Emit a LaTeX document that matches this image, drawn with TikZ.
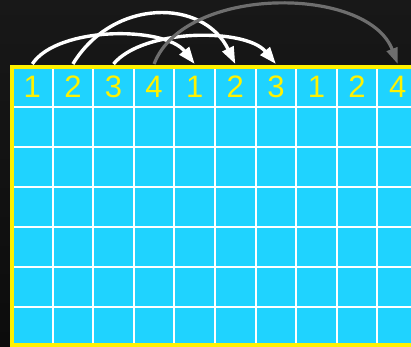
\documentclass[tikz,border=0pt]{standalone}
\usepackage{fontspec}
\setmainfont{Liberation Sans}
\usetikzlibrary{arrows.meta}
\definecolor{bgdark}{HTML}{181818}
\definecolor{bgdeep}{HTML}{0C0C0C}
\definecolor{cellblue}{HTML}{1FD3FF}
\definecolor{linkgray}{HTML}{6E6E6E}
\begin{document}
\begin{tikzpicture}[x=1pt, y=1pt,
    cell/.style={minimum width=40.6pt, minimum height=40pt, inner sep=0pt, outer sep=3pt,
        text=yellow, font=\fontsize{31}{31}\selectfont},
    link/.style={line width=3.4pt, white, -{Triangle[length=17pt,width=12pt]}},
    farlink/.style={link, linkgray, line width=3.2pt, -{Triangle[length=16pt,width=11pt]}}]
    \clip (0,0) rectangle (411,346);
    \shade[top color=bgdark, bottom color=bgdeep] (0,0) rectangle (411,346);
    % the grid
    \fill[cellblue] (12,1) rectangle (418,279);
    \foreach \k in {1,...,9} \draw[white, line width=2pt] (12+40.6*\k,1) -- (12+40.6*\k,279);
    \foreach \r in {1,...,6} \draw[white, line width=2pt] (12,279-40*\r) -- (418,279-40*\r);
    \draw[yellow, line width=4pt] (12,1) rectangle (418,279);
    % top row
    \foreach \lab [count=\i] in {1,2,3,4,1,2,3,1,2,4}
        \node[cell] (c\i) at (12+40.6*\i-20.3,259) {\lab};
    % links
    \draw[link] (c1.north) .. controls +(25,38) and +(-30,38) .. (c5.north);
    \draw[link] (c2.north) .. controls +(40,66) and +(-32,66) .. (c6.north);
    \draw[link] (c3.north) .. controls +(30,36) and +(-30,36) .. (c7.north);
    \draw[farlink] (c4.north) .. controls +(30,79) and +(-30,79) .. (c10.north);
\end{tikzpicture}
\end{document}
